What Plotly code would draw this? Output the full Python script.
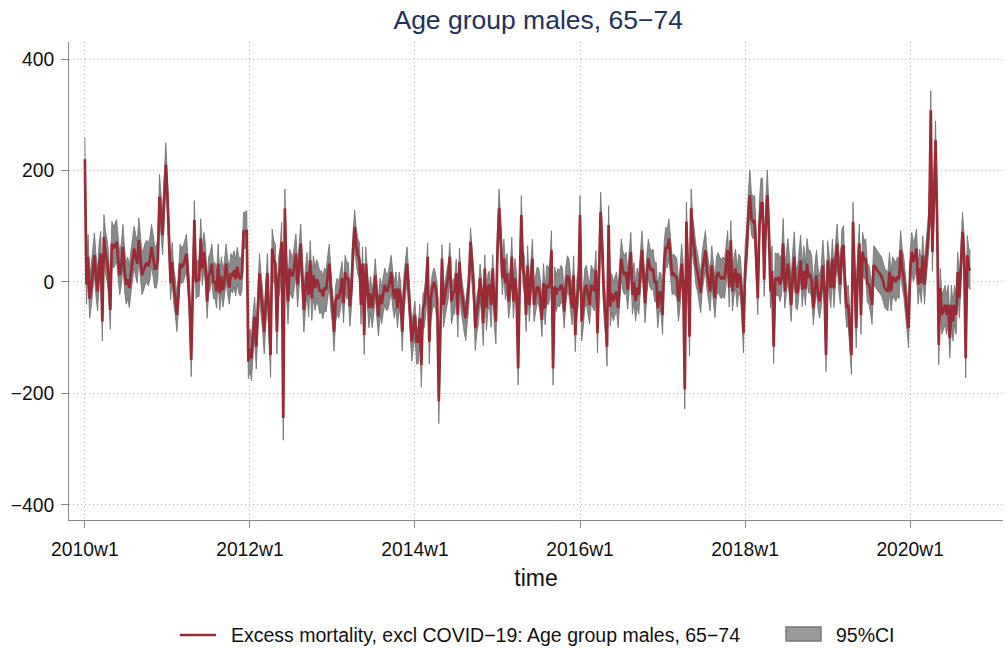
import plotly.graph_objects as go

# Weekly excess mortality (Stata %tw weeks: 52 per year)
ex_2010 = [220, -5, 45, -30, -10, 20, 48, 10, -17, 30,
           51, -71, 81, 50, 36, 10, -50, 69, 60, 65,
           72, 40, 12, 30, 63, 20, -5, 5, -11, 15,
           39, 60, 45, 33, 75, 40, 12, 20, 30, 35,
           28, 40, 63, 45, 24, 24, 40, 153, 110, 84,
           150, 210]
ex_2011 = [156, 72, -2, 36, -11, -30, -59, -20, 33, 27,
           30, 40, 51, 10, -41, -140, -20, 111, 0, 4,
           4, 78, 24, 54, 30, -35, 10, 18, 33, 0,
           0, -17, 33, -20, 10, -15, 5, 33, 7, -10,
           16, 10, 21, 5, 27, 10, 5, 16, 90, 90,
           93, -143]
ex_2012 = [-119, -137, -90, -62, -116, -35, 16, -20, -47, -89,
           -30, 16, -60, -131, 60, 40, 33, -89, 10, 27,
           72, -244, 132, 20, -35, 24, 15, 10, 30, 51,
           -5, 30, 69, 10, -50, -10, 18, -23, 39, -29,
           12, -11, 5, -2, -17, -14, -26, -10, -14, 12,
           33, -11]
ex_2013 = [-40, -89, -35, -23, -30, -14, 7, -38, 18, 5,
           5, -44, -10, 60, 99, 66, 48, 40, -41, 33,
           -95, 33, -10, -47, -20, -47, -23, 12, -30, -62,
           -23, -40, -20, -5, -17, -14, 0, 18, -12, -30,
           -12, -47, -12, -30, -89, -20, 10, 33, -12, -60,
           -107, -83]
ex_2014 = [-59, -107, -107, -65, -149, -47, -40, -10, 45, -107,
           -30, -10, 0, -10, -30, -214, -60, 42, -41, -20,
           -5, 10, 45, -35, -20, -17, 16, -59, 36, -10,
           -35, -50, -65, -30, 0, 72, 27, -5, -83, -50,
           -35, 7, -20, -74, 24, -47, -10, -5, -41, 24,
           -40, -71]
ex_2015 = [60, 132, 80, 7, 42, -2, 16, -35, -11, 45,
           -35, 7, -20, -155, 0, 120, 24, 10, -59, 30,
           -41, 10, 42, -41, -20, -8, -11, -30, -68, -2,
           -47, -5, -11, 0, 57, -155, -8, -23, -11, -15,
           -5, -11, -53, -10, 12, 6, -20, -47, 12, -95,
           -30, -11]
ex_2016 = [120, -71, -47, -11, -5, -20, -41, -5, -10, -17,
           21, -92, 20, 126, 60, -23, -60, -116, 102, -44,
           -20, -35, -25, -17, -47, 0, 42, 20, 12, 18,
           -14, 20, 54, -23, 0, -35, -10, -23, 12, 57,
           12, -38, 10, 42, 27, 20, 24, 0, 0, -47,
           -17, -20]
ex_2017 = [-59, 36, 63, 60, 78, 40, 12, 15, 10, 7,
           -35, -10, 33, 0, -193, 108, 20, -98, 132, 80,
           60, 30, 18, -5, -20, 20, 40, 57, 20, 0,
           -17, 30, 5, -29, 10, 18, 10, 5, 10, 5,
           30, 57, -10, 75, -17, 10, 24, -10, 15, 10,
           -30, -92]
ex_2018 = [20, 54, 114, 156, 114, 108, 110, 50, -29, 100,
           141, 141, 4, 100, 156, 90, -17, 20, -116, 7,
           5, 7, -5, 7, 69, -17, 10, 33, 0, -41,
           10, 45, -17, -20, 10, 39, -14, 20, -12, 33,
           10, 12, 0, -47, -12, 12, -20, -35, -14, 30,
           -12, -131]
ex_2019 = [39, 10, -11, 42, -11, 36, 69, 20, -5, 60,
           66, -10, -47, -41, -80, -131, 108, 0, -83, 20,
           69, -59, 54, 40, 42, -2, -5, -20, -41, 30,
           27, 22, 18, 15, 10, 0, -11, -14, -17, 18,
           -17, 10, 5, 0, 10, 5, 57, 24, 9, -23,
           -40, -83]
ex_2020 = [20, 54, 36, 45, 60, -5, 24, -2, 48, -5,
           36, 72, 102, 308, 54, 150, 254, 108, -113, -11,
           -59, -50, -41, -59, -41, -101, -41, -71, -41, -59,
           18, -29, 27, 90, 50, -137, 48, 24, 21]

years = [2010, 2011, 2012, 2013, 2014, 2015, 2016, 2017, 2018, 2019, 2020]
# 95% CI extent above / below the estimate, per year (read from the band)
ci_up = [40, 35, 35, 30, 25, 35, 35, 35, 45, 35, 35]
ci_dn = [35, 30, 40, 35, 40, 30, 35, 35, 30, 35, 35]

tick_vals_w = [0, 104, 208, 312, 416, 520]
tick_text_x = ["2010w1", "2012w1", "2014w1", "2016w1", "2018w1", "2020w1"]
y_ticks = [-400, -200, 0, 200, 400]
y_ticktext = ["\u2212400", "\u2212200", "0", "200", "400"]

line_label = "Excess mortality, excl COVID\u221219: Age group males, 65\u221274"
band_label = "95%CI"

series = [ex_2010, ex_2011, ex_2012, ex_2013, ex_2014, ex_2015,
          ex_2016, ex_2017, ex_2018, ex_2019, ex_2020]

excess, upper, lower = [], [], []
for vals, up, dn in zip(series, ci_up, ci_dn):
    for v in vals:
        excess.append(v)
        upper.append(v + up)
        lower.append(v - dn)
weeks = list(range(len(excess)))

LINE_RED = "#9a2b35"
BAND = "#8a8a8a"
BAND_EDGE = "#6e6e6e"
FONT = "Liberation Sans, Arial, Helvetica, sans-serif"
TXT = "#111111"

fig = go.Figure()
fig.add_trace(go.Scatter(x=weeks, y=upper, mode="lines",
                         line=dict(color=BAND_EDGE, width=0.8),
                         showlegend=False, hoverinfo="skip"))
fig.add_trace(go.Scatter(x=weeks, y=lower, mode="lines", fill="tonexty",
                         fillcolor=BAND, line=dict(color=BAND_EDGE, width=0.8),
                         name=band_label, showlegend=False))
fig.add_trace(go.Scatter(x=weeks, y=excess, mode="lines",
                         line=dict(color=LINE_RED, width=2.7),
                         name=line_label, showlegend=False))

# Legend drawn below the plot (line key + box key), in paper coordinates
leg_y = -0.2406
shapes = [
    dict(type="line", xref="paper", yref="paper", x0=0.1188, x1=0.1574,
         y0=leg_y, y1=leg_y, line=dict(color=LINE_RED, width=2.7)),
    dict(type="rect", xref="paper", yref="paper", x0=0.7677, x1=0.8051,
         y0=-0.2531, y1=-0.2238, fillcolor="#999999",
         line=dict(color="#777777", width=1.5)),
]
annotations = [
    dict(text=line_label, xref="paper", yref="paper", x=0.1713, y=leg_y,
         xanchor="left", yanchor="middle", showarrow=False,
         font=dict(size=19.5, color=TXT, family=FONT)),
    dict(text=band_label, xref="paper", yref="paper", x=0.8191, y=leg_y,
         xanchor="left", yanchor="middle", showarrow=False,
         font=dict(size=19.5, color=TXT, family=FONT)),
]

fig.update_layout(
    width=1006, height=648, autosize=False,
    margin=dict(l=69, r=3, t=42, b=128, pad=0),
    paper_bgcolor="white", plot_bgcolor="white",
    font=dict(family=FONT, size=19.3, color=TXT),
    title=dict(text="Age group males, 65\u221274", x=0.535, xref="container",
               xanchor="center", y=0.969, yref="container", yanchor="middle",
               font=dict(size=26.5, color="#1f3161", family=FONT)),
    showlegend=False,
    shapes=shapes, annotations=annotations,
)
fig.update_xaxes(range=[-10, 578.5], tickvals=tick_vals_w, ticktext=tick_text_x,
                 ticks="outside", ticklen=7, tickcolor="#888", tickwidth=1,
                 showline=True, linecolor="#888", linewidth=1,
                 showgrid=True, gridcolor="#b4b4b4", griddash="1px,3px", gridwidth=1,
                 zeroline=False, tickfont=dict(size=19.3, color=TXT),
                 ticklabelstandoff=5,
                 title=dict(text="time", font=dict(size=23, color=TXT), standoff=10))
fig.update_yaxes(range=[-427, 430.5], tickvals=y_ticks, ticktext=y_ticktext,
                 ticks="outside", ticklen=7, tickcolor="#888", tickwidth=1,
                 showline=True, linecolor="#888", linewidth=1,
                 showgrid=True, gridcolor="#b4b4b4", griddash="1px,3px", gridwidth=1,
                 zeroline=False, tickfont=dict(size=19.3, color=TXT),
                 ticklabelstandoff=3)

# Remove the browser's default 8px page margin so the figure sits at (0, 0)
fig.write_html("out.html",
               config={"displayModeBar": False},
               post_script="document.body.style.margin='0';"
                           "document.body.style.overflow='hidden';")
